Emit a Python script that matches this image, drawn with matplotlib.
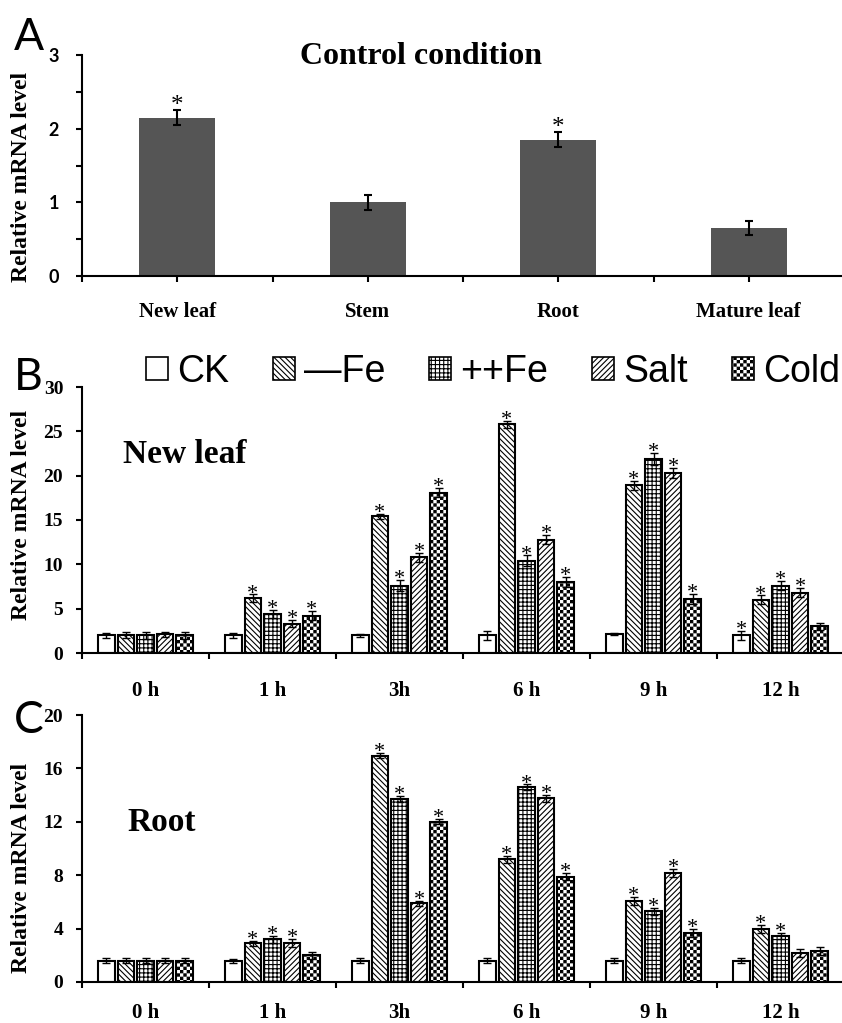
import warnings
import numpy as np
import matplotlib
matplotlib.use('Agg')
import matplotlib.pyplot as plt
import matplotlib.hatch as mhatch
from matplotlib.patches import Patch
from matplotlib.path import Path

warnings.filterwarnings('ignore')

# ---- data ----
tissues = ['New leaf', 'Stem', 'Root', 'Mature leaf']
control_mean = [2.15, 1.0, 1.85, 0.65]
control_err = [0.1, 0.1, 0.1, 0.1]
control_sig = [True, False, True, False]

times = ['0 h', '1 h', '3h', '6 h', '9 h', '12 h']
treatments = ['CK', '\u2014Fe', '++Fe', 'Salt', 'Cold']

# rows: CK, -Fe, ++Fe, Salt, Cold / cols: 0,1,3,6,9,12 h
leaf_mean = [
    [2.0, 2.0, 2.0, 2.0, 2.1, 2.0],
    [2.0, 6.2, 15.4, 25.8, 18.9, 6.0],
    [2.0, 4.4, 7.6, 10.4, 21.9, 7.6],
    [2.1, 3.3, 10.8, 12.8, 20.3, 6.8],
    [2.0, 4.2, 18.1, 8.0, 6.1, 3.0],
]
leaf_err = [
    [0.3, 0.3, 0.15, 0.5, 0.1, 0.5],
    [0.35, 0.4, 0.3, 0.4, 0.5, 0.5],
    [0.4, 0.5, 0.6, 0.6, 0.7, 0.5],
    [0.3, 0.4, 0.5, 0.5, 0.6, 0.5],
    [0.4, 0.5, 0.5, 0.6, 0.6, 0.4],
]
leaf_sig = [
    [0, 0, 0, 0, 0, 1],
    [0, 1, 1, 1, 1, 1],
    [0, 1, 1, 1, 1, 1],
    [0, 1, 1, 1, 1, 1],
    [0, 1, 1, 1, 1, 0],
]

root_mean = [
    [1.6, 1.6, 1.6, 1.6, 1.6, 1.6],
    [1.6, 2.9, 16.95, 9.2, 6.1, 3.95],
    [1.6, 3.2, 13.7, 14.6, 5.3, 3.45],
    [1.6, 2.95, 5.9, 13.75, 8.2, 2.2],
    [1.6, 2.0, 12.0, 7.9, 3.7, 2.3],
]
root_err = [
    [0.2, 0.15, 0.2, 0.2, 0.2, 0.2],
    [0.2, 0.2, 0.2, 0.25, 0.3, 0.3],
    [0.2, 0.25, 0.25, 0.2, 0.25, 0.25],
    [0.2, 0.3, 0.2, 0.25, 0.3, 0.3],
    [0.2, 0.25, 0.2, 0.25, 0.3, 0.3],
]
root_sig = [
    [0, 0, 0, 0, 0, 0],
    [0, 1, 1, 1, 1, 1],
    [0, 1, 1, 1, 1, 1],
    [0, 1, 1, 1, 1, 0],
    [0, 0, 1, 1, 1, 0],
]

plt.rcParams['hatch.linewidth'] = 0.8


# checkerboard fill for the "Cold" bars (custom hatch 'c')
class CheckerHatch(mhatch.HatchPatternBase):
    filled = True

    def __init__(self, hatch, density):
        self.n = int(hatch.count('c') * density)
        self.n -= self.n % 2
        self.num_vertices = (self.n * self.n // 2) * 5 if self.n else 0

    def set_vertices_and_codes(self, vertices, codes):
        s = 1.0 / self.n
        inset = plt.rcParams['hatch.linewidth'] / 144.0
        k = 0
        for i in range(self.n):
            for j in range(self.n):
                if (i + j) % 2:
                    continue
                x0, y0 = i * s + inset, j * s + inset
                x1, y1 = (i + 1) * s - inset, (j + 1) * s - inset
                vertices[k:k + 5] = [(x0, y0), (x1, y0), (x1, y1), (x0, y1), (x0, y0)]
                codes[k] = Path.MOVETO
                codes[k + 1:k + 4] = Path.LINETO
                codes[k + 4] = Path.CLOSEPOLY
                k += 5


mhatch._hatch_types.append(CheckerHatch)

hatches = ['', '\\\\\\\\\\\\', '++++', '//////', 'ccccc']

serif = 'Liberation Serif'
W, H = 842, 1023
fig = plt.figure(figsize=(W / 100, H / 100), dpi=100)


def fx(px):
    return px / W


def fy(py):
    return 1 - py / H


def style_axes(ax):
    for s in ['top', 'right']:
        ax.spines[s].set_visible(False)
    for s in ['left', 'bottom']:
        ax.spines[s].set_linewidth(1.5)
    ax.tick_params(which='both', direction='out', length=4.5, width=1.5)


# ---- A: control condition ----
axA = fig.add_axes([fx(82), fy(276), fx(844) - fx(82), fy(55) - fy(276)])
xa = np.arange(len(tissues))
axA.bar(xa, control_mean, width=0.4, color='#555555', yerr=control_err,
        error_kw=dict(ecolor='black', elinewidth=1.5, capsize=3, capthick=1.5))
for i in range(len(tissues)):
    if control_sig[i]:
        axA.annotate('*', (xa[i], control_mean[i] + control_err[i]), xytext=(0, -1),
                     textcoords='offset points', ha='center', va='baseline',
                     fontsize=18, family=serif)
axA.set_xlim(-0.5, 3.5)
axA.set_ylim(0, 3)
axA.set_xticks(xa)
axA.set_xticklabels(tissues, fontsize=15, fontweight='bold', family=serif)
axA.set_xticks(np.arange(-0.5, 3.6, 1), minor=True)
axA.set_yticks([0, 1, 2, 3])
axA.set_yticklabels(['0', '1', '2', '3'], fontsize=13, fontweight='bold', family='Lato')
axA.set_yticks(np.arange(0.5, 3, 1), minor=True)
style_axes(axA)
axA.tick_params(axis='x', which='major', pad=14)
axA.tick_params(axis='y', pad=12)
fig.text(fx(421), fy(56), 'Control condition', ha='center', va='center',
         fontsize=23, fontweight='bold', family=serif)


# ---- B, C: time courses ----
bar_step = 0.154
bar_w = 0.13


def draw_panel(ax, mean, err, sig, ymax, ystep, label_pad):
    x = np.arange(len(times))
    for i in range(len(treatments)):
        xi = x + (i - 2) * bar_step
        ax.bar(xi, mean[i], width=bar_w, facecolor='white', edgecolor='black',
               linewidth=1.5, hatch=hatches[i], yerr=err[i],
               error_kw=dict(ecolor='black', elinewidth=1, capsize=3, capthick=1))
        for j in range(len(times)):
            if sig[i][j]:
                ax.annotate('*', (xi[j], mean[i][j] + err[i][j]), xytext=(0, -3),
                            textcoords='offset points', ha='center', va='baseline',
                            fontsize=16, family=serif)
    ax.set_xlim(-0.5, 5.5)
    ax.set_ylim(0, ymax)
    ax.set_xticks(np.arange(-0.5, 5.6, 1))
    ax.set_xticklabels([])
    ax.set_xticks(x, minor=True)
    ax.set_xticklabels(times, minor=True, fontsize=15, fontweight='bold', family=serif)
    ax.set_yticks(np.arange(0, ymax + 1, ystep))
    ax.set_yticklabels([str(v) for v in range(0, ymax + 1, ystep)],
                       fontsize=14, fontweight='bold', family=serif)
    style_axes(ax)
    ax.tick_params(axis='x', which='minor', length=0, pad=label_pad)
    ax.tick_params(axis='y', pad=9)


axB = fig.add_axes([fx(82), fy(653), fx(844) - fx(82), fy(387) - fy(653)])
draw_panel(axB, leaf_mean, leaf_err, leaf_sig, 30, 5, 20)
fig.text(fx(123), fy(463), 'New leaf', fontsize=24, fontweight='bold', family=serif)

axC = fig.add_axes([fx(82), fy(982), fx(844) - fx(82), fy(715) - fy(982)])
draw_panel(axC, root_mean, root_err, root_sig, 20, 4, 15)
fig.text(fx(127), fy(831), 'Root', fontsize=24, fontweight='bold', family=serif)

# legend
handles = [Patch(facecolor='white', edgecolor='black', linewidth=1.2, hatch=h)
           for h in hatches]
fig.legend(handles, treatments, loc='center', bbox_to_anchor=(fx(493), fy(372)),
           ncol=5, frameon=False, prop={'family': 'Liberation Sans', 'size': 27},
           handlelength=0.58, handleheight=0.56, handletextpad=0.25,
           columnspacing=1.17, borderpad=0, borderaxespad=0)

# y labels and panel letters
for yc in [177, 515, 868]:
    fig.text(fx(22), fy(yc), 'Relative mRNA level', rotation=90, ha='center',
             va='center', fontsize=17, fontweight='bold', family=serif)
for letter, yb in [('A', 50), ('B', 390), ('C', 733)]:
    fig.text(fx(14), fy(yb), letter, fontsize=32, family='Lato', va='baseline')

plt.savefig('out.png', dpi=100)
